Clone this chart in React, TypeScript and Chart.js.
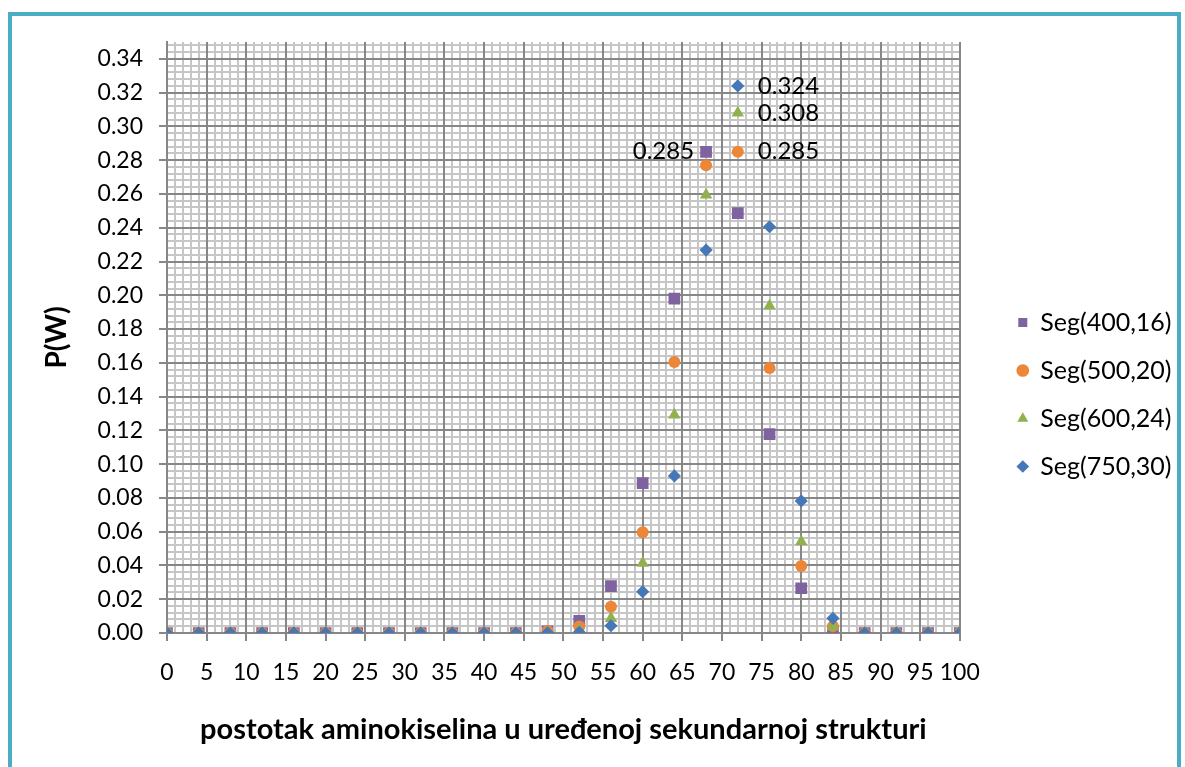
import React, { useEffect, useRef } from "react";
import { Chart, registerables } from "chart.js";

Chart.register(...registerables);

// ---- data ----
const xValues = [0, 4, 8, 12, 16, 20, 24, 28, 32, 36, 40, 44, 48, 52, 56, 60, 64, 68, 72, 76, 80, 84, 88, 92, 96, 100];

const seriesNames = ["Seg(400,16)", "Seg(500,20)", "Seg(600,24)", "Seg(750,30)"];

const seg400_16 = [0, 0, 0, 0, 0, 0, 0, 0, 0, 0, 0, 0, 0.001, 0.0072, 0.0278, 0.0887, 0.198, 0.285, 0.2487, 0.1178, 0.0265, 0.0013, 0, 0, 0, 0];
const seg500_20 = [0, 0, 0, 0, 0, 0, 0, 0, 0, 0, 0, 0, 0.0012, 0.0038, 0.0156, 0.0597, 0.1605, 0.277, 0.285, 0.157, 0.0397, 0.004, 0, 0, 0, 0];
const seg600_24 = [0, 0, 0, 0, 0, 0, 0, 0, 0, 0, 0, 0, 0.0003, 0.0018, 0.0087, 0.0413, 0.1291, 0.2594, 0.308, 0.1937, 0.0541, 0.0037, 0, 0, 0, 0];
const seg750_30 = [0, 0, 0, 0, 0, 0, 0, 0, 0, 0, 0, 0, 0.0001, 0.0004, 0.0043, 0.0245, 0.093, 0.2268, 0.324, 0.2406, 0.0782, 0.0087, 0, 0, 0, 0];

const seriesValues = [seg400_16, seg500_20, seg600_24, seg750_30];

// data labels: which series, which point, which side
const labelSeries = [0, 1, 2, 3];
const labelPoint = [17, 18, 18, 18];
const labelSide = ["left", "right", "right", "right"];

const xTitle = "postotak aminokiselina u uređenoj sekundarnoj strukturi";
const yTitle = "P(W)";

// ---- styles ----
const colors = ["#7f63a1", "#ec8638", "#8fb24f", "#4677b6"];
const pointStyles = ["rect", "circle", "triangle", "rectRot"];
const pointRadii = [8.3, 6, 7.2, 6.6];
const drawOrder = [3, 2, 1, 0];
const majorGrid = "#878787";
const minorGrid = "#c6c6c6";
const tickFont = { family: "Lato", size: 23 };
const yTickFont = { family: "Lato", size: 23, lineHeight: 0.8 };
const dataLabelFont = { family: "Lato", size: 24 };
const legendFont = { family: "Lato", size: 25 };
const xTitleFont = { family: "Lato", size: 29, weight: "bold" as const };
const yTitleFont = { family: "Lato", size: 28, weight: "bold" as const };

const labelPlugin = {
  id: "pointValueLabels",
  afterDatasetsDraw(chart: any) {
    const ctx = chart.ctx;
    ctx.save();
    ctx.font = `${dataLabelFont.size}px ${dataLabelFont.family}`;
    ctx.fillStyle = "#000";
    ctx.textBaseline = "middle";
    labelSeries.forEach((s, i) => {
      const meta = chart.getDatasetMeta(s);
      const el = meta.data[labelPoint[i]];
      if (!el) return;
      const text = seriesValues[s][labelPoint[i]].toFixed(3);
      if (labelSide[i] === "right") {
        ctx.textAlign = "left";
        ctx.fillText(text, el.x + 20, el.y);
      } else {
        ctx.textAlign = "right";
        ctx.fillText(text, el.x - 12, el.y);
      }
    });
    ctx.restore();
  },
};

export default function App() {
  const canvasRef = useRef<HTMLCanvasElement | null>(null);

  useEffect(() => {
    if (!canvasRef.current) return;
    const datasets = seriesNames.map((name, i) => ({
      label: name,
      data: xValues.map((x, j) => ({ x, y: seriesValues[i][j] })),
      xAxisID: "x",
      yAxisID: "y",
      showLine: false,
      pointStyle: pointStyles[i],
      pointRadius: pointRadii[i],
      pointBackgroundColor: colors[i],
      pointBorderColor: colors[i],
      pointBorderWidth: 0,
      backgroundColor: colors[i],
      borderColor: colors[i],
      borderWidth: 0,
      order: drawOrder[i],
    }));

    const chart = new Chart(canvasRef.current, {
      type: "scatter",
      data: { datasets },
      plugins: [labelPlugin],
      options: {
        responsive: false,
        animation: false,
        layout: { padding: { top: 26, left: 0, right: 0.5, bottom: 0 } },
        plugins: {
          tooltip: { enabled: false },
          legend: {
            display: true,
            position: "right",
            labels: {
              usePointStyle: true,
              boxWidth: 10,
              boxHeight: 9,
              padding: 23,
              color: "#000",
              font: legendFont,
              sort: (a: any, b: any) => a.datasetIndex - b.datasetIndex,
            },
          },
        },
        scales: {
          xMinor: {
            type: "linear",
            axis: "x",
            position: "bottom",
            min: 0,
            max: 100,
            ticks: { display: false, stepSize: 1 },
            grid: { color: minorGrid, lineWidth: 2, drawTicks: false, z: -2 },
            border: { display: false },
            afterFit: (s: any) => {
              s.height = 0;
            },
          },
          yMinor: {
            type: "linear",
            axis: "y",
            position: "right",
            min: 0,
            max: 0.35,
            ticks: { display: false, stepSize: 0.004, includeBounds: false },
            grid: { color: minorGrid, lineWidth: 2, drawTicks: false, z: -2 },
            border: { display: false },
            afterFit: (s: any) => {
              s.width = 35;
            },
          },
          x: {
            type: "linear",
            position: "bottom",
            min: 0,
            max: 100,
            ticks: {
              stepSize: 5,
              autoSkip: false,
              maxRotation: 0,
              padding: 18,
              color: "#000",
              font: tickFont,
            },
            grid: { color: majorGrid, lineWidth: 2, tickLength: 8, tickColor: majorGrid, z: -1 },
            border: { display: true, color: majorGrid, width: 2 },
            title: {
              display: true,
              text: xTitle,
              color: "#000",
              font: xTitleFont,
              padding: { top: 0, bottom: 0 },
            },
            afterFit: (s: any) => {
              s.height = 114;
            },
          },
          y: {
            type: "linear",
            position: "left",
            min: 0,
            max: 0.35,
            ticks: {
              stepSize: 0.02,
              includeBounds: false,
              padding: 16,
              color: "#000",
              font: yTickFont,
              callback: (v: any) => Number(v).toFixed(2),
            },
            grid: { color: majorGrid, lineWidth: 2, tickLength: 8, tickColor: majorGrid, z: -1 },
            border: { display: true, color: majorGrid, width: 2 },
            title: {
              display: true,
              text: yTitle,
              color: "#000",
              font: yTitleFont,
              padding: { top: 28, bottom: 0 },
            },
            afterFit: (s: any) => {
              s.width = 155;
            },
          },
        },
      } as any,
    });
    return () => chart.destroy();
  }, []);

  return (
    <div
      style={{
        position: "fixed",
        left: 8,
        top: 12,
        width: 1173,
        height: 755,
        boxSizing: "border-box",
        borderTop: "4px solid #4bacc6",
        borderLeft: "4px solid #4bacc6",
        borderRight: "4px solid #4bacc6",
        background: "#fff",
      }}
    >
      <canvas ref={canvasRef} width={1170} height={731} style={{ display: "block" }} />
    </div>
  );
}
